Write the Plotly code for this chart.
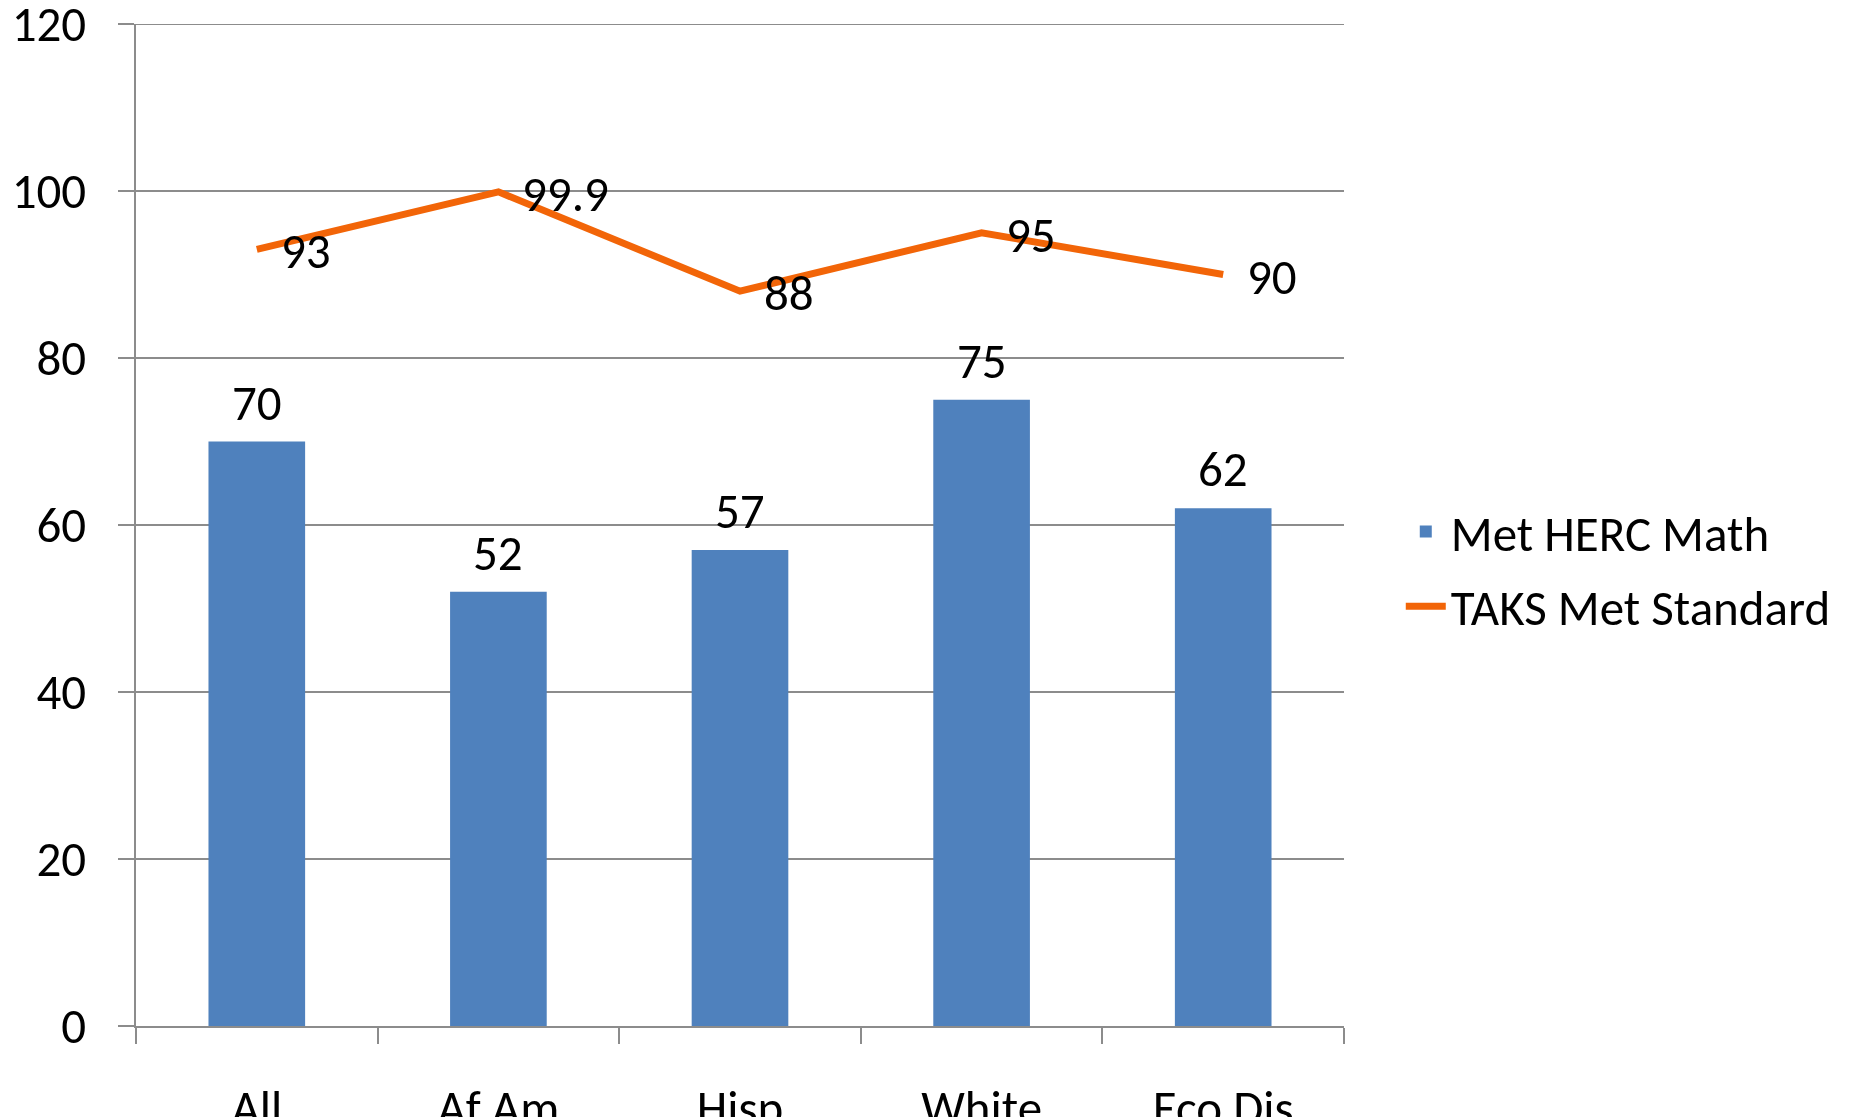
import plotly.graph_objects as go

categories = ["All", "Af Am", "Hisp", "White", "Eco Dis"]
herc_math = [70, 52, 57, 75, 62]
taks_met = [93, 99.9, 88, 95, 90]
y_ticks = [0, 20, 40, 60, 80, 100, 120]

FONT = "Carlito, Calibri, Lato, sans-serif"
FS = 49
BLUE = "#4F81BD"
ORANGE = "rgb(242,101,8)"
GRID = "#8C8C8C"

fig = go.Figure()
fig.add_trace(go.Bar(
    x=categories, y=herc_math, name="Met HERC Math",
    marker=dict(color=BLUE, line=dict(width=0)),
    width=0.4, legendgroup="a",
))
fig.add_trace(go.Scatter(
    x=categories, y=taks_met, name="TAKS Met Standard",
    mode="lines", line=dict(color=ORANGE, width=7),
    legendgroup="b", cliponaxis=False,
))
for c, v in zip(categories, herc_math):
    fig.add_annotation(x=c, y=v, text=f"{v:g}", showarrow=False,
                       xanchor="center", yanchor="middle", yshift=39,
                       font=dict(size=FS, color="black", family=FONT))
for c, v in zip(categories, taks_met):
    fig.add_annotation(x=c, y=v, text=f"{v:g}", showarrow=False,
                       xanchor="left", yanchor="middle", xshift=22, yshift=-2,
                       font=dict(size=FS, color="black", family=FONT))

# top gridline at the last y tick (at the edge of the range)
fig.add_shape(type="line", xref="paper", x0=0, x1=1, yref="y",
              y0=y_ticks[-1], y1=y_ticks[-1], layer="below",
              line=dict(color=GRID, width=2))

fig.update_layout(
    width=1855, height=1117,
    margin=dict(l=128, r=519, t=16, b=99),
    plot_bgcolor="white", paper_bgcolor="white",
    font=dict(family=FONT, size=FS, color="black"),
    showlegend=True,
    legend=dict(x=1.047, y=0.456, xanchor="left", yanchor="middle",
                font=dict(size=FS, family=FONT, color="black"),
                tracegroupgap=8, itemwidth=40),
)
fig.update_xaxes(
    type="category", tickson="boundaries", ticks="outside", ticklen=16,
    tickcolor=GRID, tickwidth=2, showline=True, linecolor=GRID, linewidth=2,
    showgrid=False, ticklabelstandoff=38, automargin=False,
    ticklabeloverflow="allow",
    tickfont=dict(size=FS, family=FONT, color="black"),
)
fig.update_yaxes(
    range=[0, 120], tickvals=y_ticks, ticks="outside", ticklen=16,
    tickcolor=GRID, tickwidth=2, showline=True, linecolor=GRID, linewidth=2,
    showgrid=True, gridcolor=GRID, gridwidth=2, zeroline=False,
    ticklabelstandoff=22, automargin=False, ticklabeloverflow="allow",
    tickfont=dict(size=FS, family=FONT, color="black"),
)

fig.write_html("out.html")
